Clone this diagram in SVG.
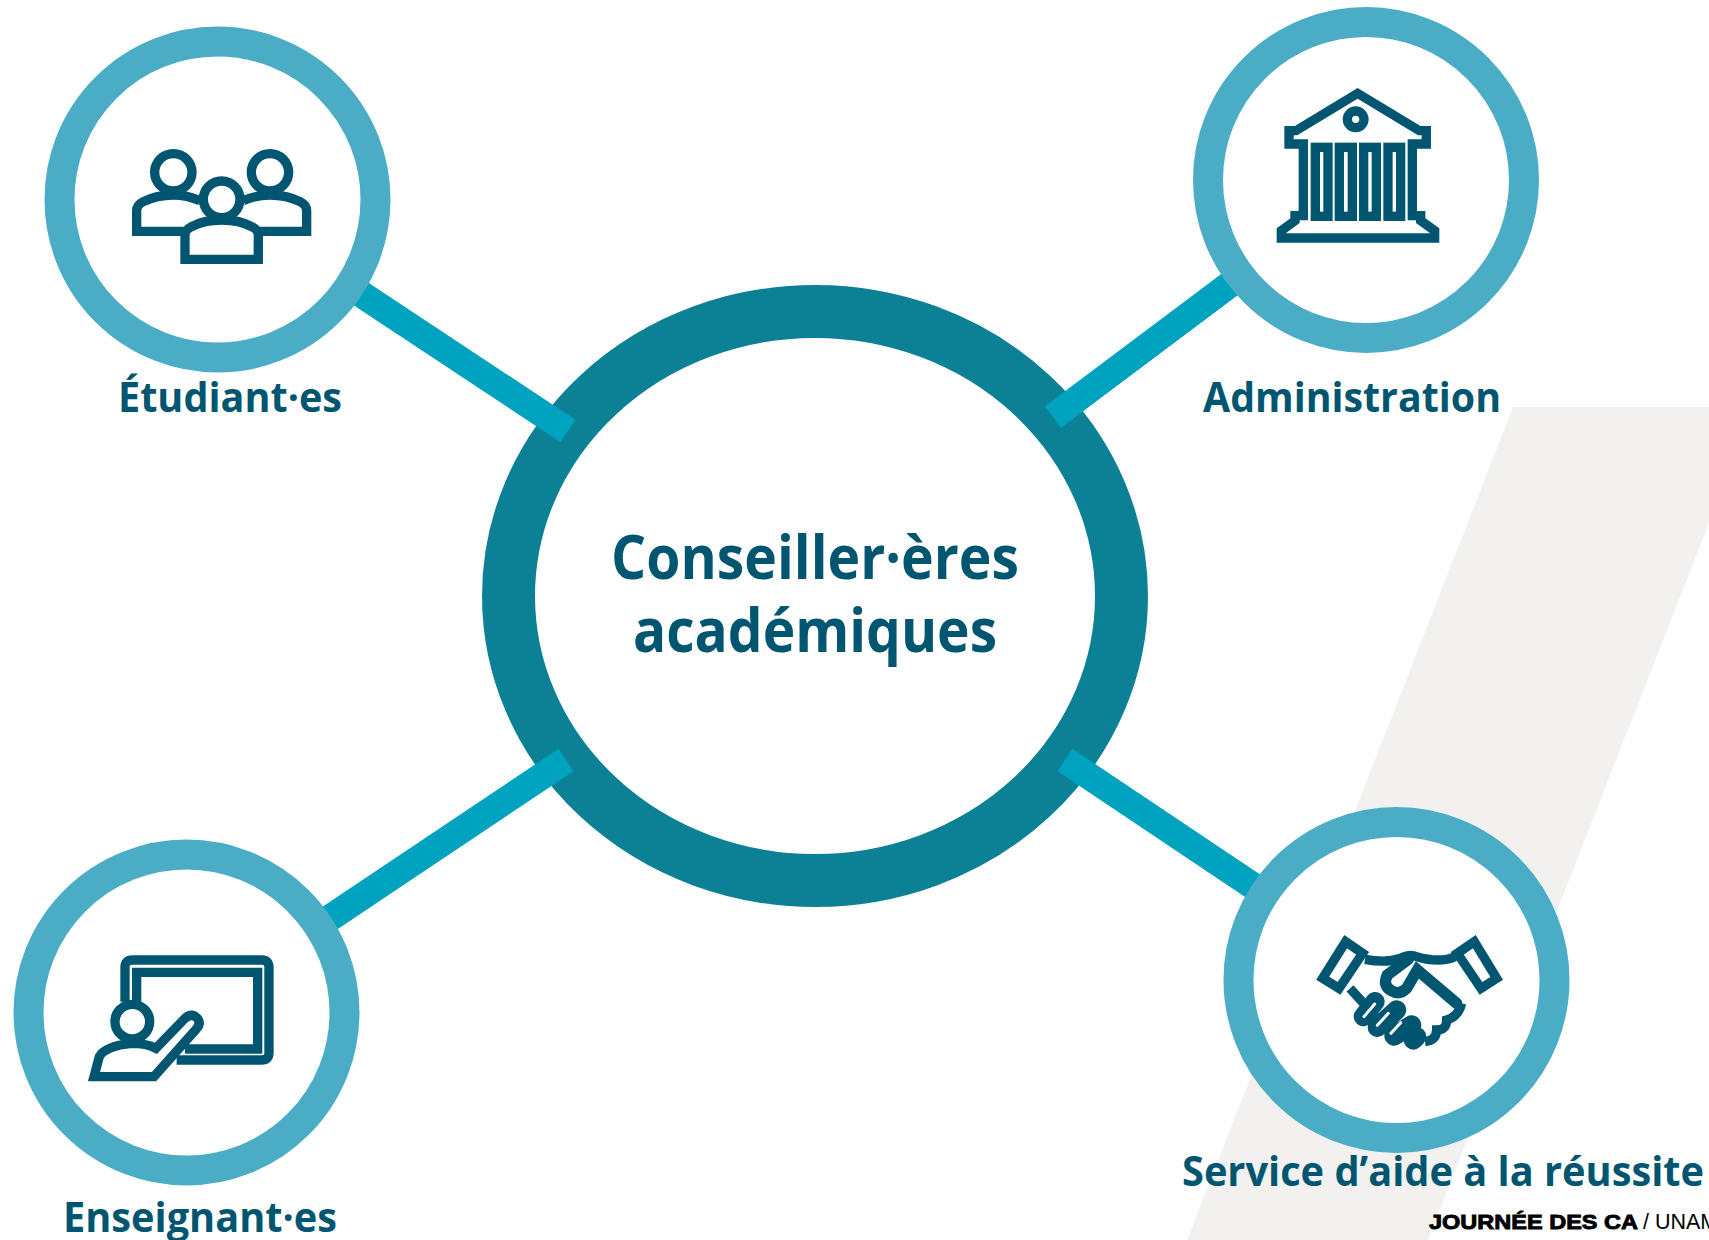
<svg xmlns="http://www.w3.org/2000/svg" width="1709" height="1240" viewBox="0 0 1709 1240">
<style>
text{font-family:"Open Sans","Noto Sans","Liberation Sans",sans-serif;font-weight:700;fill:#005670;text-anchor:start}
.ring{fill:#fff;stroke:#4BACC6;stroke-width:30}
.conn{stroke:#00A3BF;stroke-width:27;fill:none}
.ic{fill:none;stroke:#005670;stroke-width:28;stroke-linejoin:miter}
.icw{fill:#fff;stroke:#005670;stroke-width:28}
.lab{font-size:42px}
.big{font-size:61px}
</style>
<polygon points="1513,407 1709,407 1709,523 1428,1240 1187,1240" fill="#F2F1EF"/>
<g id="center"><ellipse cx="815" cy="596" rx="306.500" ry="284.500" fill="#fff" stroke="#0C8196" stroke-width="53"/>
<text class="big" x="611" y="579" textLength="408" lengthAdjust="spacingAndGlyphs">Conseiller·ères</text>
<text class="big" x="633" y="652" textLength="364" lengthAdjust="spacingAndGlyphs">académiques</text></g>
<g id="connectors">
<line class="conn" x1="355" y1="290" x2="568" y2="431"/>
<line class="conn" x1="1237" y1="279" x2="1053" y2="417"/>
<line class="conn" x1="566" y1="760" x2="330" y2="918"/>
<line class="conn" x1="1065" y1="760" x2="1256" y2="888"/>
</g>
<g id="etudiants">
<circle class="ring" cx="217.500" cy="199.500" r="158"/>
<g transform="translate(100 120) scale(.3333)">
<path class="ic" d="M250,334H110V272Q110,255 130,245Q170,225 220,225Q260,225 300,242M480,334H620V272Q620,255 600,245Q560,225 510,225Q470,225 430,242"/>
<circle class="ic" cx="220" cy="157" r="56"/><circle class="ic" cx="510" cy="157" r="56"/>
<path class="icw" d="M255,418H475V345Q475,330 455,320Q420,300 365,300Q310,300 275,320Q255,330 255,345Z"/>
<circle class="icw" cx="365" cy="238" r="55"/>
</g>
<text class="lab" x="118" y="412" textLength="224" lengthAdjust="spacingAndGlyphs">Étudiant·es</text></g>
<g id="administration">
<circle class="ring" cx="1366" cy="180" r="158"/>
<g transform="translate(1260 70) scale(.3333)">
<path class="ic" d="M87,222H130V437H105V452L64,482V504H524V482L482,452V437H457V222H499V182H478L293,70L108,182H87Z"/>
<rect class="ic" x="166" y="232" width="38" height="207"/><rect class="ic" x="238" y="232" width="39" height="207"/><rect class="ic" x="311" y="232" width="38" height="207"/><rect class="ic" x="384" y="232" width="38" height="207"/>
<circle class="ic" cx="287" cy="148" r="25"/>
</g>
<text class="lab" x="1203" y="412" textLength="298" lengthAdjust="spacingAndGlyphs">Administration</text></g>
<g id="enseignants">
<circle class="ring" cx="186.500" cy="1012.500" r="158"/>
<g transform="translate(70 940) scale(.3333)">
<path class="ic" d="M165,185V82Q165,60 187,60H575Q597,60 597,82V338Q597,360 575,360H320"/>
<path class="ic" d="M200,185V97H563V327H345"/>
<path class="icw" d="M72,410L88,350Q105,318 185,310Q230,310 258,325L345,235Q365,218 382,235Q395,250 378,268L252,410Z"/>
<circle class="icw" cx="187" cy="245" r="52"/>
</g>
<text class="lab" x="63" y="1232" textLength="274" lengthAdjust="spacingAndGlyphs">Enseignant·es</text></g>
<g id="service">
<circle class="ring" cx="1396.500" cy="980" r="158"/>
<g transform="translate(1300 920) scale(.3333)">
<g fill="none" stroke="#005670" stroke-width="28"><path d="M137,65L188,100L117,205L68,175Z"/><path d="M523,65L472,100L543,205L590,175Z"/></g>
<path class="ic" d="M195,118Q260,130 300,115Q330,100 350,110Q420,130 465,110"/>
<path class="ic" d="M150,205L195,255"/>
<path class="ic" stroke-linecap="round" style="stroke-width:34" d="M325,118L262,165Q245,200 280,215Q300,225 320,205L352,150L470,250"/>
<path class="ic" d="M485,250Q475,290 440,300Q440,330 410,330Q410,360 375,365"/>
<path fill="none" stroke="#005670" stroke-width="58" stroke-linecap="round" d="M225,245L190,290M290,270L232,322M335,315L282,348M350,350L340,360"/>
<path fill="none" stroke="#fff" stroke-width="9" stroke-linecap="round" d="M192,290L224,252M232,316L265,280M273,340L302,308"/>
</g>
<text class="lab" x="1182" y="1186" textLength="522" lengthAdjust="spacingAndGlyphs">Service d’aide à la réussite</text></g>
<text x="1429" y="1229" font-size="21" textLength="209" lengthAdjust="spacingAndGlyphs" style="font-family:'Liberation Sans',sans-serif;fill:#000;stroke:#000;stroke-width:.9">JOURNÉE DES CA</text>
<text x="1643" y="1229" font-size="21.500" style="font-family:'Liberation Sans',sans-serif;font-weight:400;fill:#000">/ UNAM</text>
</svg>
